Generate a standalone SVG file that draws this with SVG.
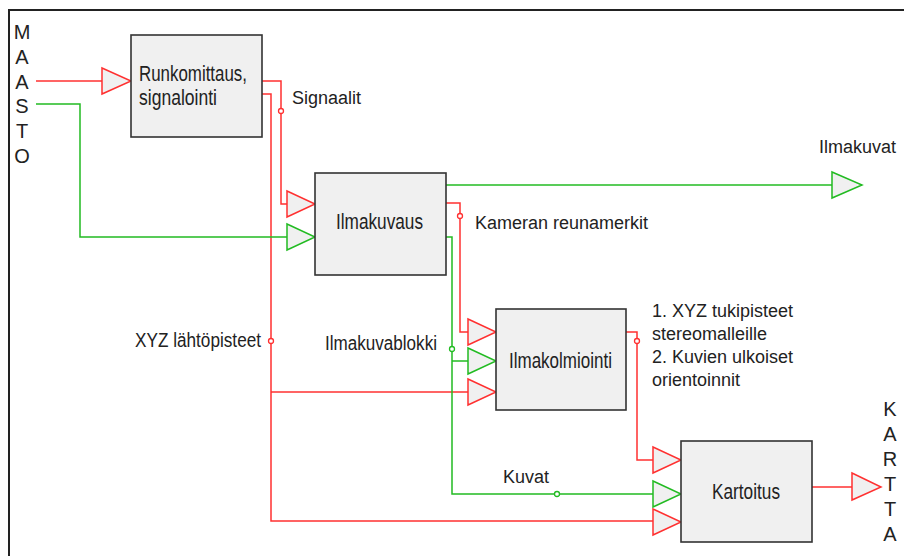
<svg xmlns="http://www.w3.org/2000/svg" width="904" height="556" viewBox="0 0 904 556">
<style>
.node{fill:#f0f0f0;stroke:#333;stroke-width:1.6}
.r{fill:none;stroke:#ff3030;stroke-width:1.5}
.g{fill:none;stroke:#22bb22;stroke-width:1.5}
.ra{fill:#f0f0f0;stroke:#ff3030;stroke-width:1.5}
.ga{fill:#f0f0f0;stroke:#22bb22;stroke-width:1.5}
.rc{fill:#fff;stroke:#ff3030;stroke-width:1.3}
.gc{fill:#fff;stroke:#22bb22;stroke-width:1.3}
text{font-family:"Liberation Sans",Arial,sans-serif;fill:#222}
.nt{font-size:22px}
.lb{font-size:18px}
.cl{font-size:20px}
.big{font-size:20px}
</style>
<rect width="904" height="556" fill="#fff"/>
<path d="M9,556 V10 H904" fill="none" stroke="#222" stroke-width="2"/>
<g id="connectors">
<path class="r" d="M36,81 H102"/>
<path class="r" d="M262,81 H281 V204 H287"/>
<path class="r" d="M262,94 H271 V521 H653"/>
<path class="r" d="M271,392 H468"/>
<path class="r" d="M446,203 H460 V332 H468"/>
<path class="r" d="M626,332 H637 V460 H653"/>
<path class="r" d="M812,487 H852"/>
<path class="g" d="M36,104 H80 V237 H287"/>
<path class="g" d="M446,185 H832"/>
<path class="g" d="M446,237 H452 V494 H653"/>
<path class="g" d="M452,361 H468"/>
<polygon class="ra" points="102,68 131,81 102,94"/>
<polygon class="ra" points="287,191 315,204 287,217"/>
<polygon class="ra" points="468,319 496,332 468,345"/>
<polygon class="ra" points="468,379 496,392 468,405"/>
<polygon class="ra" points="653,447 681,460 653,473"/>
<polygon class="ra" points="653,509 681,522 653,535"/>
<polygon class="ra" points="852,473 881,487 852,500"/>
<polygon class="ga" points="287,224 315,237 287,250"/>
<polygon class="ga" points="468,348 496,361 468,374"/>
<polygon class="ga" points="653,481 681,494 653,507"/>
<polygon class="ga" points="832,172 862,185 832,198"/>
<circle class="rc" cx="281" cy="111" r="2.5"/>
<circle class="rc" cx="271" cy="341" r="2.5"/>
<circle class="rc" cx="460" cy="216" r="2.5"/>
<circle class="rc" cx="637" cy="341" r="2.5"/>
<circle class="gc" cx="452" cy="349" r="2.5"/>
<circle class="gc" cx="557" cy="494" r="2.5"/>
<text class="lb" x="292" y="104">Signaalit</text>
<text class="lb" x="475" y="229">Kameran reunamerkit</text>
<text class="cl" x="135" y="347" textLength="126" lengthAdjust="spacingAndGlyphs">XYZ lähtöpisteet</text>
<text class="cl" x="325" y="350" textLength="112" lengthAdjust="spacingAndGlyphs">Ilmakuvablokki</text>
<text class="lb" x="819" y="153">Ilmakuvat</text>
<text class="lb" x="503" y="483">Kuvat</text>
<text class="lb" x="652" y="317">1. XYZ tukipisteet</text>
<text class="lb" x="652" y="340">stereomalleille</text>
<text class="lb" x="652" y="363">2. Kuvien ulkoiset</text>
<text class="lb" x="652" y="386">orientoinnit</text>
</g>
<g id="maasto">
<text class="big" x="22" y="39" text-anchor="middle">M</text>
<text class="big" x="22" y="64" text-anchor="middle">A</text>
<text class="big" x="22" y="89" text-anchor="middle">A</text>
<text class="big" x="22" y="113" text-anchor="middle">S</text>
<text class="big" x="22" y="138" text-anchor="middle">T</text>
<text class="big" x="22" y="163" text-anchor="middle">O</text>
</g>
<g id="kartta">
<text class="big" x="890" y="416" text-anchor="middle">K</text>
<text class="big" x="890" y="441" text-anchor="middle">A</text>
<text class="big" x="890" y="466" text-anchor="middle">R</text>
<text class="big" x="890" y="491" text-anchor="middle">T</text>
<text class="big" x="890" y="516" text-anchor="middle">T</text>
<text class="big" x="890" y="541" text-anchor="middle">A</text>
</g>
<g id="runkomittaus">
<rect class="node" x="131" y="35" width="131" height="102"/>
<text class="nt" x="139" y="81" textLength="108" lengthAdjust="spacingAndGlyphs">Runkomittaus,</text>
<text class="nt" x="139" y="105" textLength="78" lengthAdjust="spacingAndGlyphs">signalointi</text>
</g>
<g id="ilmakuvaus">
<rect class="node" x="315" y="173" width="131" height="102"/>
<text class="nt" x="336" y="229" textLength="87" lengthAdjust="spacingAndGlyphs">Ilmakuvaus</text>
</g>
<g id="ilmakolmiointi">
<rect class="node" x="496" y="309" width="130" height="101"/>
<text class="nt" x="509" y="368" textLength="103" lengthAdjust="spacingAndGlyphs">Ilmakolmiointi</text>
</g>
<g id="kartoitus">
<rect class="node" x="681" y="441" width="131" height="101"/>
<text class="nt" x="712" y="499" textLength="68" lengthAdjust="spacingAndGlyphs">Kartoitus</text>
</g>
</svg>
